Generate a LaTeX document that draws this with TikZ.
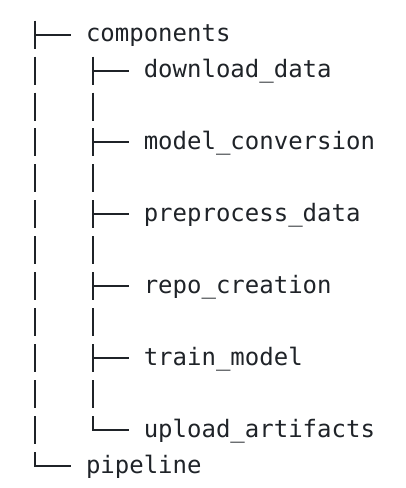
\documentclass[tikz,border=0pt]{standalone}
\usepackage{fontspec}
\setmonofont{DejaVu Sans Mono}
\definecolor{ink}{HTML}{1F2328}
\newcommand\ry[1]{34.6+35.95*(#1-1)}
\begin{document}
\begin{tikzpicture}[x=1pt,y=-1pt,
  treeline/.style={draw=ink,line width=2pt},
  lbl/.style={anchor=base west,inner sep=0pt,text=ink,font=\ttfamily\fontsize{24}{24}\selectfont}]
\useasboundingbox (0,0) rectangle (406,488);
% labels
\node[lbl] (components) at (85.8,{\ry{1}+7}) {components};
\node[lbl] (download) at (143.6,{\ry{2}+7}) {download\_data};
\node[lbl] (modelconv) at (143.6,{\ry{4}+7}) {model\_conversion};
\node[lbl] (preprocess) at (143.6,{\ry{6}+7}) {preprocess\_data};
\node[lbl] (repo) at (143.6,{\ry{8}+7}) {repo\_creation};
\node[lbl] (train) at (143.6,{\ry{10}+7}) {train\_model};
\node[lbl] (upload) at (143.6,{\ry{12}+7}) {upload\_artifacts};
\node[lbl] (pipeline) at (85.8,{\ry{13}+7}) {pipeline};
% first-level verticals
\foreach \r in {1,...,12}{
  \coordinate (a\r t) at (35,{\ry{\r}-14});
  \coordinate (a\r b) at (35,{\ry{\r}+14});
  \draw[treeline] (a\r t) -- (a\r b);
}
\coordinate (a13t) at (35,{\ry{13}-14});
\coordinate (a13m) at (35,{\ry{13}});
\coordinate (a13e) at (71.4,{\ry{13}});
\draw[treeline] (a13t) -- (a13m) -- (a13e);
\coordinate (a1m) at (35,{\ry{1}});
\coordinate (a1e) at (71.4,{\ry{1}});
\draw[treeline] (a1m) -- (a1e);
% second-level verticals
\foreach \r in {2,...,11}{
  \coordinate (b\r t) at (93,{\ry{\r}-14});
  \coordinate (b\r b) at (93,{\ry{\r}+14});
  \draw[treeline] (b\r t) -- (b\r b);
}
\coordinate (b12t) at (93,{\ry{12}-14});
\coordinate (b12m) at (93,{\ry{12}});
\coordinate (b12e) at (129.2,{\ry{12}});
\draw[treeline] (b12t) -- (b12m) -- (b12e);
\foreach \r in {2,4,6,8,10}{
  \coordinate (b\r m) at (93,{\ry{\r}});
  \coordinate (b\r e) at (129.2,{\ry{\r}});
  \draw[treeline] (b\r m) -- (b\r e);
}
\end{tikzpicture}
\end{document}
